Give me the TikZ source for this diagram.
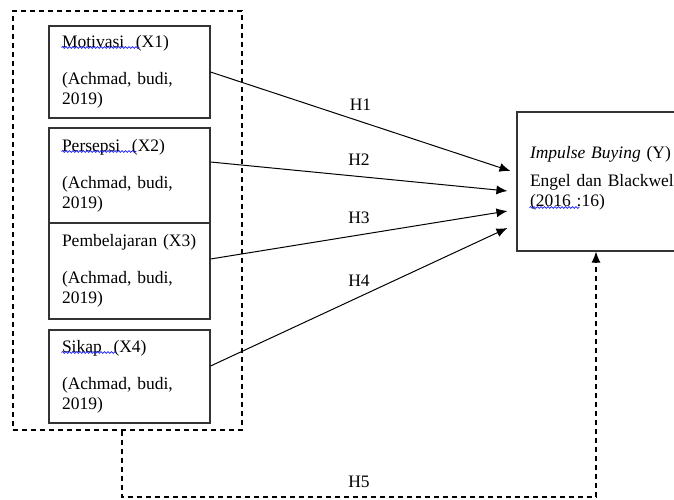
\documentclass[tikz,border=0pt]{standalone}
\usepackage{fontspec}
\setmainfont{Liberation Serif}
\usepackage{tikz}
\usetikzlibrary{arrows.meta}
\usetikzlibrary{calc}
\usetikzlibrary{decorations.pathmorphing}
\colorlet{colorBOX}{black!80}
\colorlet{colorSPL}{blue!90!white}
\tikzset{
   var/.style={draw=colorBOX,line width=1.1pt,align=left,text width=135pt,
     inner xsep=13pt,inner ysep=0pt,minimum width=161pt},
   grp/.style={draw,line width=1.1pt,dash pattern=on 5pt off 4pt,inner sep=0pt},
   hyp/.style={->,line width=1pt},
   hfive/.style={->,line width=1.1pt,dash pattern=on 5pt off 4pt},
   spl/.style={colorSPL,line width=0.7pt,decorate,
     decoration={snake,amplitude=0.9pt,segment length=3.5pt}},
}

\begin{document}
\begin{tikzpicture}[x=1pt,y=-1pt,>={Latex[length=11pt,width=9pt]},
    font=\fontsize{17.5}{20}\selectfont]
  \useasboundingbox (0,0) rectangle (674,500);

  \node[grp,minimum width=229pt,minimum height=419pt] (grp) at (127.5, 220.5) {};

  \node[var,minimum height=92pt] (x1) at (129.5,  72)   {Motivasi\ \ (X1)\\[17pt](Achmad, budi,\\2019)};
  \node[var,minimum height=95pt] (x2) at (129.5, 175.5) {Persepsi\ \ (X2)\\[17pt](Achmad, budi,\\2019)};
  \node[var,minimum height=96pt] (x3) at (129.5, 271)   {Pembelajaran (X3)\\[17pt](Achmad, budi,\\2019)};
  \node[var,minimum height=93pt] (x4) at (129.5, 376.5) {Sikap\ \ (X4)\\[17pt](Achmad, budi,\\2019)};

  \node[var,text width=160pt,minimum width=186pt,minimum height=139pt] (y) at (610, 181.5)
    {\textit{Impulse Buying} (Y)\\[8pt]Engel dan Blackwell\\(2016 :16)\\[-10pt]\mbox{}};

  %% spelling marks
  \draw[spl] ([shift={(13,22)}]x1.north west) -- ++(78,0);
  \draw[spl] ([shift={(13,24)}]x2.north west) -- ++(75,0);
  \draw[spl] ([shift={(13,23)}]x4.north west) -- ++(55,0);
  \draw[spl] ([shift={(13,96)}]y.north west)  -- ++(50,0);

  \coordinate (turn) at (122, 497);

  \draw[hyp] (x1.east)                    -- node[above=7pt] {H1} ([shift={(-6,-10.5)}]y.west);
  \draw[hyp] ([shift={(0,-13.5)}]x2.east) -- node[above=7pt] {H2} ([shift={(-9,9.5)}]y.west);
  \draw[hyp] ([shift={(0,-12)}]x3.east)   -- node[above=7pt] {H3} ([shift={(-9,29.5)}]y.west);
  \draw[hyp] ([shift={(0,-10.5)}]x4.east) -- node[above=7pt] {H4} ([shift={(-9,46.5)}]y.west);

  \draw[hfive] ([xshift=-5.5pt]grp.south) -- (turn) -| node[pos=.25,above=5pt] {H5} ([xshift=-14pt]y.south);
\end{tikzpicture}
\end{document}
